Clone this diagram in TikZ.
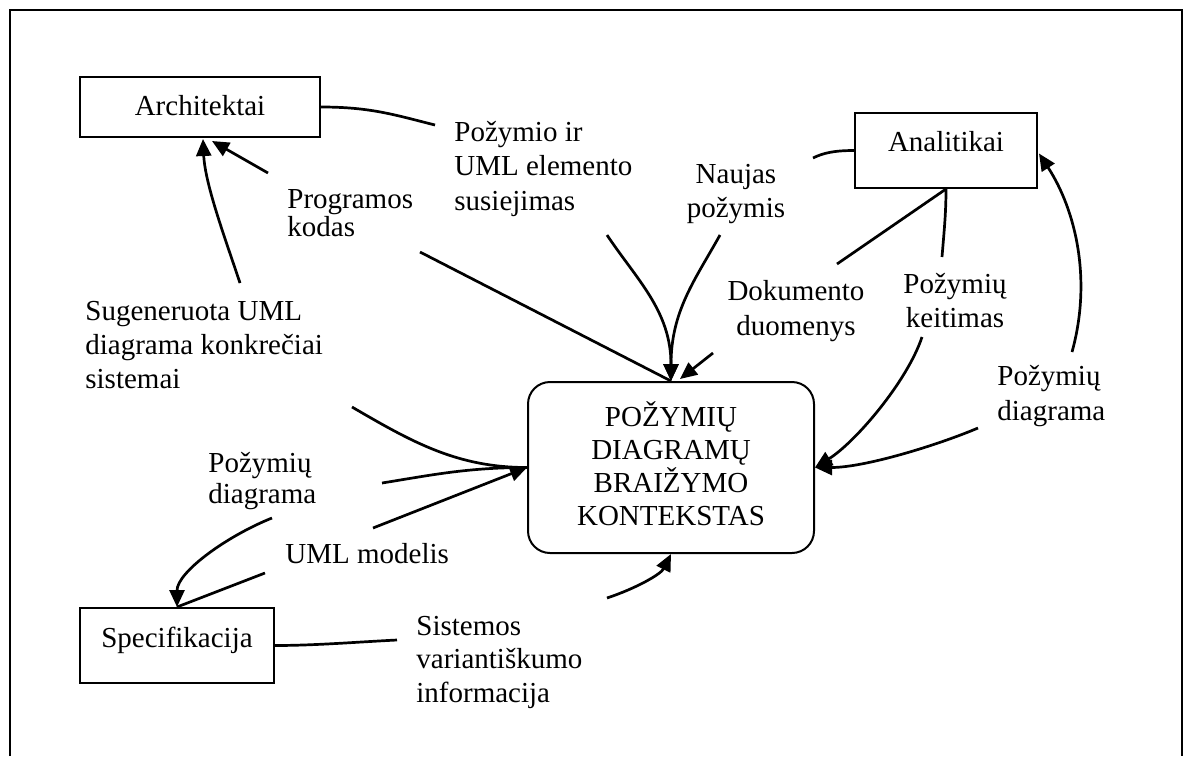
\documentclass[tikz,border=0pt]{standalone}
\usepackage{fontspec}
\setmainfont{Liberation Serif}
\usetikzlibrary{arrows.meta,calc}

% stacked lines whose baseline is the first line's baseline
\newcommand\leftlines[2]{\vtop{\baselineskip=#1\relax\lineskiplimit=-20pt\halign{##\hfil\cr#2\crcr}}}
\newcommand\midlines[2]{\vtop{\baselineskip=#1\relax\lineskiplimit=-20pt\halign{\hfil##\hfil\cr#2\crcr}}}

\tikzset{
  box/.style={draw, line width=1pt, inner sep=0pt, text height=10pt},
  lbl/.style={inner sep=0pt, anchor=base west},
  clbl/.style={inner sep=0pt, anchor=base},
  flow/.style={line width=1.35pt},
  arr/.style={line width=1.35pt, -{Triangle[length=8.5pt,width=7.5pt]}},
}

\begin{document}
\begin{tikzpicture}[x=0.5pt, y=-0.5pt, font=\fontsize{14.5}{17}\selectfont]
\useasboundingbox (0,0) rectangle (1183,756);

% outer frame
\draw[line width=1.2pt] (10,756) -- (10,10) -- (1182,10) -- (1182,756);

% actors and context
\node[box, minimum width=120pt, minimum height=30pt, text depth=2pt] (arch) at (200,107) {Architektai};
\node[box, minimum width=91pt, minimum height=37.5pt, text depth=8.8pt] (ana) at (946,150.5) {Analitikai};
\node[box, minimum width=97pt, minimum height=37.5pt, text depth=8.5pt] (spec) at (177,645.5) {Specifikacija};
\node[box, rounded corners=11pt, minimum width=143pt, minimum height=85.5pt, text depth=50.8pt] (cen) at (671,467.5)
  {\midlines{16.4pt}{POŽYMIŲ\cr DIAGRAMŲ\cr BRAIŽYMO\cr KONTEKSTAS}};

% flow labels
\node[lbl] (lsus) at (454,141) {\leftlines{17.25pt}{Požymio ir\cr UML elemento\cr susiejimas}};
\node[clbl] (lnau) at (736,183) {\midlines{17pt}{Naujas\cr požymis}};
\node[lbl] (lkod) at (287,208) {\leftlines{14pt}{Programos\cr kodas}};
\node[clbl] (ldok) at (796,300) {\midlines{17.5pt}{Dokumento\cr duomenys}};
\node[clbl] (lkei) at (955,293) {\midlines{17pt}{Požymių\cr keitimas}};
\node[lbl] (ldiar) at (997,385) {\leftlines{17.5pt}{Požymių\cr diagrama}};
\node[lbl] (lsug) at (85,320) {\leftlines{17pt}{Sugeneruota UML\cr diagrama konkrečiai\cr sistemai}};
\node[lbl] (ldial) at (208,472) {\leftlines{15.5pt}{Požymių\cr diagrama}};
\node[lbl] (luml) at (285,563) {UML modelis};
\node[lbl] (lsis) at (416,635) {\leftlines{16.75pt}{Sistemos\cr variantiškumo\cr informacija}};

% free ends of the flows, next to their labels
\coordinate (a1) at (435,125);
\coordinate (b0) at (607,235);
\coordinate (c0) at (720,235);
\coordinate (d1) at (837,264);
\coordinate (d2) at (713,353);
\coordinate (e1) at (420,252);
\coordinate (e2) at (268,173);
\coordinate (f1) at (352,407);
\coordinate (f2) at (240,283);
\coordinate (g1) at (382,483);
\coordinate (g2) at (272,518);
\coordinate (h1) at (265,573);
\coordinate (h2) at (373,528);
\coordinate (i1) at (397,640);
\coordinate (i2) at (607,598);
\coordinate (j1) at (813,158);
\coordinate (k1) at (942,257);
\coordinate (k2) at (922,337);
\coordinate (m1) at (978,428);
\coordinate (m2) at (1072,352);

% Architektai
\draw[flow] (arch.east) .. controls +(50,0) and +(-40,-10) .. (a1);
\draw[arr] (b0) .. controls +(30,45) and +(0,-70) .. (cen.north);
\draw[flow] (cen.north) -- (e1);
\draw[arr] (e2) -- ($(arch.south)+(12,3)$);
\draw[flow] (cen.west) .. controls +(-70,0) and +(60,35) .. (f1);
\draw[arr] (f2) .. controls +(-15,-45) and +(2,45) .. ($(arch.south)+(3,1)$);

% Analitikai
\draw[flow] (ana.west) .. controls +(-20,0) and +(10,-5) .. (j1);
\draw[arr] (c0) .. controls +(-25,45) and +(0,-70) .. (cen.north);
\draw[flow] (ana.south) -- (d1);
\draw[arr] (d2) -- ($(cen.north)+(9,-2)$);
\draw[flow] (ana.south) .. controls +(0,25) and +(2,-25) .. (k1);
\draw[arr] (k2) .. controls +(-15,45) and +(40,-25) .. (cen.east);
\draw[arr] (m1) .. controls +(-40,17) and +(50,0) .. (cen.east);
\draw[arr] (m2) .. controls +(20,-72) and +(37,57) .. ($(ana.east)+(1,3)$);

% Specifikacija
\draw[flow] (cen.west) .. controls +(-60,0) and +(50,-8) .. (g1);
\draw[arr] (g2) .. controls +(-45,18) and +(0,-35) .. (spec.north);
\draw[flow] (spec.north) -- (h1);
\draw[arr] (h2) -- (cen.west);
\draw[flow] (spec.east) .. controls +(40,0) and +(-40,2) .. (i1);
\draw[arr] (i2) .. controls +(30,-10) and +(-10,20) .. (cen.south);
\end{tikzpicture}
\end{document}
